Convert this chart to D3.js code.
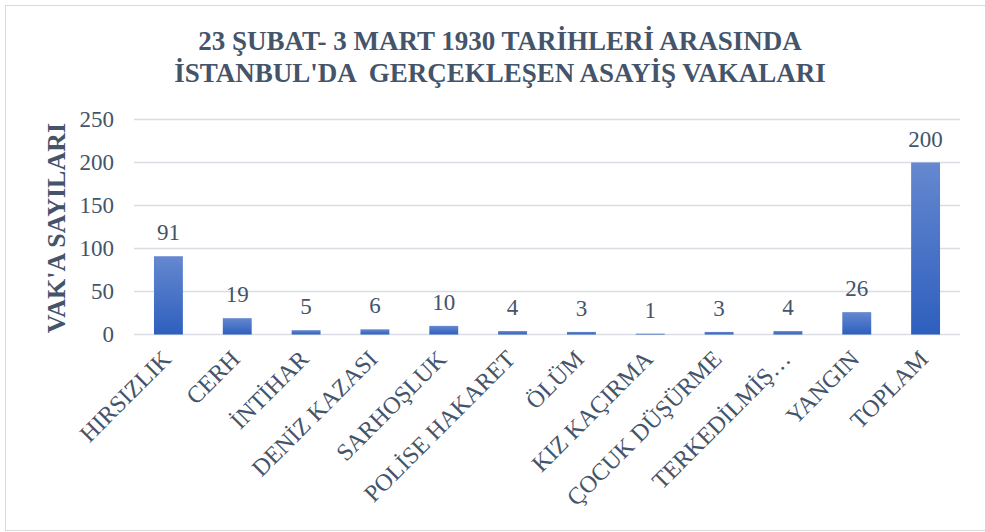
<!DOCTYPE html>
<html><head><meta charset="utf-8">
<script src="https://cdn.jsdelivr.net/npm/d3@7"></script>
<style>body{margin:0;background:#fff}svg{display:block}</style>
</head><body>
<svg id="c" width="985" height="532"></svg>
<script>
const categories = ["HIRSIZLIK","CERH","İNTİHAR","DENİZ KAZASI","SARHOŞLUK","POLİSE HAKARET","ÖLÜM","KIZ KAÇIRMA","ÇOCUK DÜŞÜRME","TERKEDİLMİŞ…","YANGIN","TOPLAM"];
const values = [91,19,5,6,10,4,3,1,3,4,26,200];
const yTicks = [0,50,100,150,200,250];
const titleLines = ["23 ŞUBAT- 3 MART 1930 TARİHLERİ ARASINDA","İSTANBUL'DA  GERÇEKLEŞEN ASAYİŞ VAKALARI"];
const yTitle = "VAK'A SAYILARI";

const svg = d3.select("#c");
const txt = "#44546a";
const font = "'Liberation Serif','Times New Roman',serif";

svg.append("rect").attr("x",5.5).attr("y",5.5).attr("width",985).attr("height",525)
  .attr("fill","#fff").attr("stroke","#d9d9d9");

const defs = svg.append("defs");
const g = defs.append("linearGradient").attr("id","bg").attr("x1",0).attr("y1",0).attr("x2",0).attr("y2",1);
g.append("stop").attr("offset","0%").attr("stop-color","#6588cf");
g.append("stop").attr("offset","100%").attr("stop-color","#2e5fbe");

const x = d3.scaleBand().domain(categories).range([134,960]).paddingInner(0.58).paddingOuter(0.29);
const y = d3.scaleLinear().domain([0,250]).range([334.5,119.5]);

// gridlines
svg.append("g").selectAll("line").data(yTicks).join("line")
  .attr("x1",134).attr("x2",960).attr("y1",d=>y(d)).attr("y2",d=>y(d))
  .attr("stroke","#d9dde3").attr("stroke-width",1.5);

// y axis labels
const ya = svg.append("g").attr("transform","translate(114,0)")
  .call(d3.axisLeft(y).tickValues(yTicks).tickSize(0).tickPadding(0));
ya.select(".domain").remove();
ya.selectAll("text").attr("font-family",font).attr("font-size",23).attr("fill",txt);

// bars
svg.append("g").selectAll("rect").data(values).join("rect")
  .attr("x",(d,i)=>x(categories[i])).attr("width",x.bandwidth())
  .attr("y",d=>y(d)).attr("height",d=>y(0)-y(d)).attr("fill","url(#bg)");

// data labels
svg.append("g").selectAll("text").data(values).join("text")
  .attr("x",(d,i)=>x(categories[i])+x.bandwidth()/2).attr("y",d=>y(d)-16)
  .attr("text-anchor","middle").attr("font-family",font).attr("font-size",23).attr("fill",txt)
  .text(d=>d);

// x axis labels
const xa = svg.append("g").attr("transform","translate(0,334.5)")
  .call(d3.axisBottom(x).tickSize(0).tickPadding(0));
xa.select(".domain").remove();
xa.selectAll("text").attr("font-family",font).attr("font-size",24).attr("fill",txt)
  .attr("text-anchor","end").attr("dy",null)
  .attr("transform","translate(4,26) rotate(-45)");

// title
svg.append("g").selectAll("text").data(titleLines).join("text")
  .attr("x",500).attr("y",(d,i)=>50+i*32).attr("text-anchor","middle")
  .style("white-space","pre")
  .attr("font-family",font).attr("font-weight","bold").attr("font-size",27).attr("fill",txt)
  .text(d=>d);

// y title
svg.append("text").attr("transform","translate(65,228) rotate(-90)").attr("text-anchor","middle")
  .attr("font-family",font).attr("font-weight","bold").attr("font-size",26).attr("fill",txt)
  .text(yTitle);
</script>
</body></html>
